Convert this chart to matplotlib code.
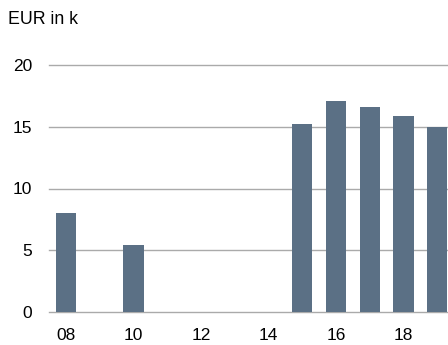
import matplotlib
matplotlib.use("Agg")
import matplotlib.pyplot as plt

years = [8, 10, 15, 16, 17, 18, 19]
values = [8.0, 5.4, 15.2, 17.1, 16.6, 15.9, 15.0]
xticks = [8, 10, 12, 14, 16, 18]
xticklabels = ["08", "10", "12", "14", "16", "18"]
yticks = [0, 5, 10, 15, 20]

plt.rcParams['font.family'] = ['Liberation Sans', 'DejaVu Sans']

fig = plt.figure(figsize=(4.48, 3.45), dpi=100)
ax = fig.add_axes([49/448, 33/345, 1 - 49/448, (312-65)/345])

ax.bar(years, values, width=0.6, color='#5b7085', zorder=3)
ax.set_xlim(7.5, 19.32)
ax.set_ylim(0, 20)
ax.set_yticks(yticks)
ax.set_yticklabels([str(v) for v in yticks])
ax.set_xticks(xticks)
ax.set_xticklabels(xticklabels)
for s in ax.spines.values():
    s.set_visible(False)
ax.yaxis.grid(True, color='#aaaaaa', linewidth=1.0, zorder=1)
for line in ax.get_ygridlines():
    line.set_clip_on(False)
ax.tick_params(axis='both', length=0, labelsize=12.5, colors='black')
ax.tick_params(axis='y', pad=12)
ax.tick_params(axis='x', pad=11.5)

fig.text(8/448, 1 - 11/345, "EUR in k", fontsize=12.8, ha='left', va='top')

fig.savefig("out.png", dpi=100)
